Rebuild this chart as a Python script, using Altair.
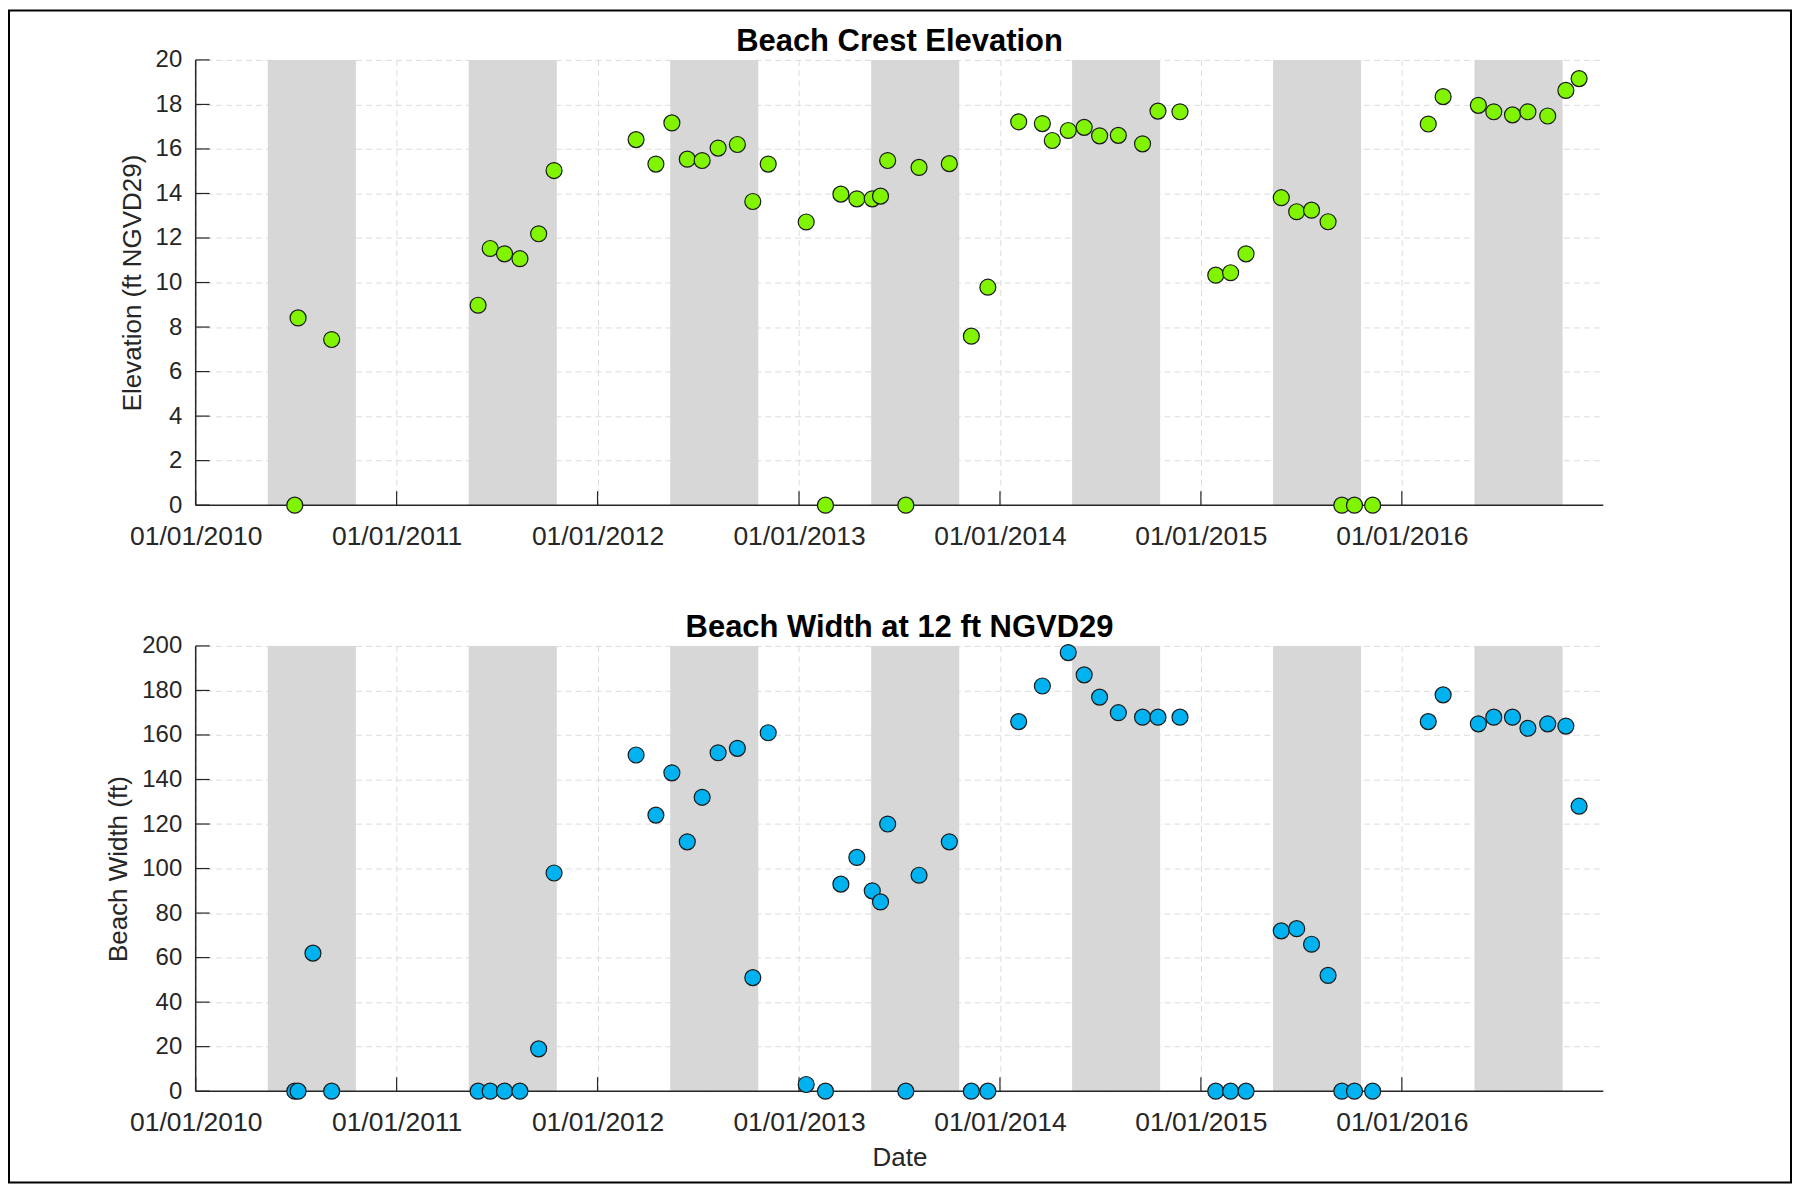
import altair as alt
import pandas as pd

# ---------------- data ----------------
crest_dates = ["2010-06-30", "2010-07-06", "2010-09-05",
               "2011-05-29", "2011-06-20", "2011-07-16", "2011-08-13", "2011-09-16", "2011-10-14",
               "2012-03-11", "2012-04-16", "2012-05-15", "2012-06-12", "2012-07-09", "2012-08-07",
               "2012-09-11", "2012-10-09", "2012-11-06",
               "2013-01-14", "2013-02-18", "2013-03-18", "2013-04-16", "2013-05-14", "2013-05-29",
               "2013-06-11", "2013-07-14", "2013-08-07", "2013-10-01", "2013-11-10", "2013-12-10",
               "2014-02-04", "2014-03-19", "2014-04-06", "2014-05-05", "2014-06-03", "2014-07-01",
               "2014-08-04", "2014-09-17", "2014-10-15", "2014-11-24",
               "2015-01-28", "2015-02-24", "2015-03-24", "2015-05-27", "2015-06-24", "2015-07-21",
               "2015-08-20", "2015-09-14", "2015-10-07", "2015-11-09",
               "2016-02-18", "2016-03-16", "2016-05-19", "2016-06-16", "2016-07-20", "2016-08-17",
               "2016-09-22", "2016-10-25", "2016-11-18"]
crest_elev = [0, 8.41, 7.44,
              8.98, 11.53, 11.29, 11.07, 12.19, 15.03,
              16.42, 15.32, 17.17, 15.54, 15.48, 16.04, 16.20, 13.64, 15.32,
              12.72, 0, 13.97, 13.76, 13.76, 13.88, 15.48, 0, 15.17, 15.34, 7.59, 9.79,
              17.22, 17.14, 16.38, 16.83, 16.97, 16.59, 16.61, 16.23, 17.70, 17.67,
              10.33, 10.44, 11.29, 13.81, 13.18, 13.25, 12.73, 0, 0, 0,
              17.12, 18.35, 17.96, 17.67, 17.53, 17.67, 17.48, 18.63, 19.16]

width_dates = ["2010-06-30", "2010-07-06", "2010-08-02", "2010-09-05",
               "2011-05-29", "2011-06-20", "2011-07-16", "2011-08-13", "2011-09-16", "2011-10-14",
               "2012-03-11", "2012-04-16", "2012-05-15", "2012-06-12", "2012-07-09", "2012-08-07",
               "2012-09-11", "2012-10-09", "2012-11-06",
               "2013-01-14", "2013-02-18", "2013-03-18", "2013-04-16", "2013-05-14", "2013-05-29",
               "2013-06-11", "2013-07-14", "2013-08-07", "2013-10-01", "2013-11-10", "2013-12-10",
               "2014-02-04", "2014-03-19", "2014-05-05", "2014-06-03", "2014-07-01",
               "2014-08-04", "2014-09-17", "2014-10-15", "2014-11-24",
               "2015-01-28", "2015-02-24", "2015-03-24", "2015-05-27", "2015-06-24", "2015-07-21",
               "2015-08-20", "2015-09-14", "2015-10-07", "2015-11-09",
               "2016-02-18", "2016-03-16", "2016-05-19", "2016-06-16", "2016-07-20", "2016-08-17",
               "2016-09-22", "2016-10-25", "2016-11-18"]
width_ft = [0, 0, 62, 0,
            0, 0, 0, 0, 19, 98,
            151, 124, 143, 112, 132, 152, 154, 51, 161,
            3, 0, 93, 105, 90, 85, 120, 0, 97, 112, 0, 0,
            166, 182, 197, 187, 177, 170, 168, 168, 168,
            0, 0, 0, 72, 73, 66, 52, 0, 0, 0,
            166, 178, 165, 168, 168, 163, 165, 164, 128]

season_start = ["2010-05-12", "2011-05-12", "2012-05-12", "2013-05-12",
                "2014-05-12", "2015-05-12", "2016-05-12"]
season_end = ["2010-10-19", "2011-10-19", "2012-10-19", "2013-10-19",
              "2014-10-19", "2015-10-19", "2016-10-19"]

tick_dates = ["2010-01-01", "2011-01-01", "2012-01-01", "2013-01-01",
              "2014-01-01", "2015-01-01", "2016-01-01"]
tick_years = [2010, 2011, 2012, 2013, 2014, 2015, 2016]
elev_ticks = [0, 2, 4, 6, 8, 10, 12, 14, 16, 18, 20]
width_ticks = [0, 20, 40, 60, 80, 100, 120, 140, 160, 180, 200]

# ---------------- styling ----------------
W, H = 1410, 446
TICK = 14
FONT = "Liberation Sans"
AX = "#262626"
GREEN = "#80F400"
BLUE = "#00B2F0"
BAND = "#D7D7D7"
GRID = "#DCDCDC"

x_scale = alt.Scale(type="utc",
                    domain=[alt.DateTime(year=2010, month=1, date=1, utc=True),
                            alt.DateTime(year=2017, month=1, date=1, utc=True)],
                    nice=False)
year_vals = [alt.DateTime(year=y, month=1, date=1, utc=True) for y in tick_years]

seasons = pd.DataFrame({"start": season_start, "end": season_end})
xticks_df = pd.DataFrame({"t": tick_dates})
one = pd.DataFrame({"k": [0]})


def panel(dates, values, color, ytitle, yticks, ymax, title, xtitle, with_frame):
    df = pd.DataFrame({"date": dates, "value": values})
    yticks_df = pd.DataFrame({"v": yticks})
    y_scale = alt.Scale(domain=[0, ymax], nice=False, zero=True)

    main_x_kw = dict(orient="bottom", values=year_vals, format="%m/%d/%Y", labelFont=FONT,
                     labelFontSize=26.5, labelColor=AX, labelPadding=18,
                     labelFlush=False, labelOverlap=False,
                     ticks=False, tickSize=0, domain=False,
                     grid=True, gridColor=GRID, gridDash=[6, 4], gridWidth=1)
    if xtitle:
        xa = alt.Axis(title=xtitle, titleFont=FONT, titleFontSize=26,
                      titleFontWeight="normal", titleColor=AX, titlePadding=9, **main_x_kw)
    else:
        xa = alt.Axis(title=None, **main_x_kw)
    ya = alt.Axis(orient="left", values=yticks, labelFont=FONT, labelFontSize=24,
                  labelColor=AX, labelPadding=14, labelFlush=False,
                  ticks=False, tickSize=0, domain=False,
                  grid=True, gridColor=GRID, gridDash=[6, 4], gridWidth=1,
                  title=ytitle, titleFont=FONT, titleFontSize=26,
                  titleFontWeight="normal", titleColor=AX, titlePadding=10)

    bands = alt.Chart(seasons).mark_rect(color=BAND).encode(
        x=alt.X("start:T", scale=x_scale, axis=xa),
        x2="end:T",
    )

    # inward tick marks (MATLAB style)
    xticks = alt.Chart(xticks_df).mark_rule(color=AX, strokeWidth=1.2).encode(
        x=alt.X("t:T", scale=x_scale, axis=xa),
        y=alt.value(H - TICK), y2=alt.value(H),
    )
    yticks_m = alt.Chart(yticks_df).mark_rule(color=AX, strokeWidth=1.2).encode(
        y=alt.Y("v:Q", scale=y_scale, axis=ya),
        x=alt.value(0), x2=alt.value(TICK),
    )

    # axis lines
    xline = alt.Chart(one).mark_rule(color=AX, strokeWidth=1.5).encode(
        y=alt.YDatum(0, type="quantitative", scale=y_scale, axis=ya),
    )
    yline = alt.Chart(one).mark_rule(color=AX, strokeWidth=1.5).encode(
        x=alt.XDatum(alt.DateTime(year=2010, month=1, date=1, utc=True),
                     type="temporal", scale=x_scale, axis=xa),
    )

    pts = alt.Chart(df).mark_circle(size=256, color=color, opacity=1,
                                    stroke="#1A1A1A", strokeWidth=1.2).encode(
        x=alt.X("date:T", scale=x_scale, axis=xa),
        y=alt.Y("value:Q", scale=y_scale, axis=ya),
    )

    # panel title, drawn as text just above the plot area
    ttl = alt.Chart(one).mark_text(text=title, font=FONT, fontSize=31, fontWeight="bold",
                                   color="black", align="center", baseline="alphabetic").encode(
        x=alt.value(W / 2), y=alt.value(-9),
    )

    layers = [bands, xticks, yticks_m, xline, yline, pts, ttl]
    if with_frame:
        frame = alt.Chart(one).mark_rect(fill="white", fillOpacity=0, stroke="black",
                                         strokeWidth=2).encode(
            x=alt.value(-187), x2=alt.value(1598),
            y=alt.value(-49.5), y2=alt.value(1124.5),
        )
        layers.append(frame)

    return alt.layer(*layers).properties(width=W, height=H)


top = panel(crest_dates, crest_elev, GREEN, "Elevation (ft NGVD29)", elev_ticks, 20,
            "Beach Crest Elevation", None, True)
bottom = panel(width_dates, width_ft, BLUE, "Beach Width (ft)", width_ticks, 200,
               "Beach Width at 12 ft NGVD29", "Date", False)

chart = alt.vconcat(top, bottom, spacing=141, bounds="flush").properties(
    padding=0, background="white"
).configure_view(strokeWidth=0)

chart.save("out.html", embed_options={"renderer": "svg", "actions": False})
